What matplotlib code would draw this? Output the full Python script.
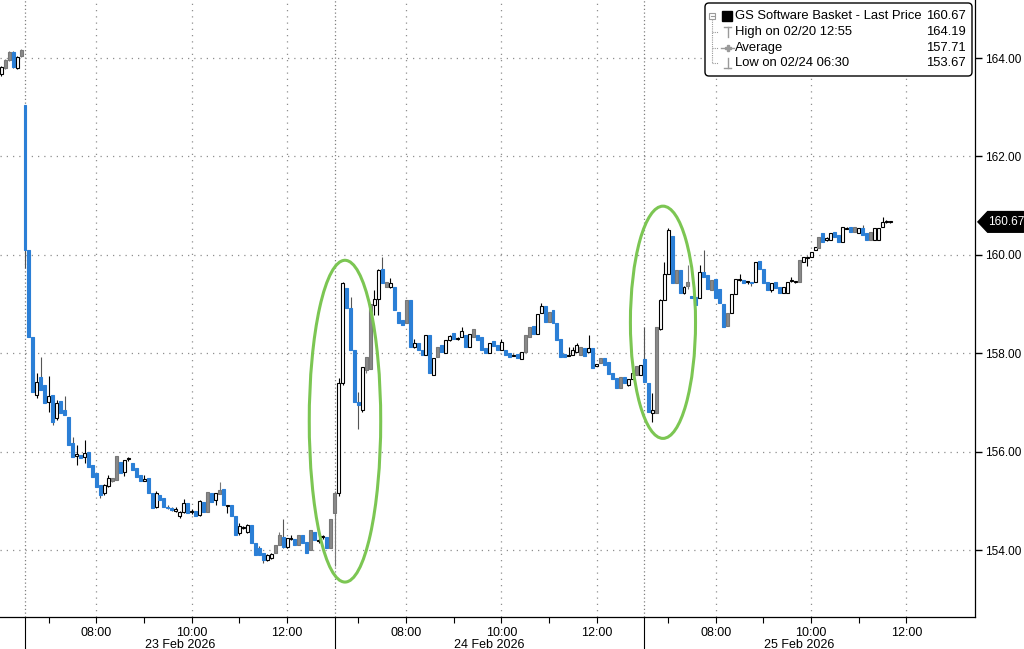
import matplotlib
matplotlib.use('Agg')
import matplotlib.pyplot as plt
import matplotlib.transforms as mtransforms
from matplotlib.patches import Ellipse, Polygon, FancyBboxPatch, Rectangle
import numpy as np

# 5-minute bars: last 6 bars of 20 Feb, then sessions of 23, 24 and 25 Feb (06:30 - 12:55)
bar_open = [
    163.67, 163.79, 163.96, 164.13, 163.79, 164.04,
    # 23 Feb
    163.04, 160.10, 158.34, 157.15, 157.51, 157.35, 157.00, 157.15, 156.68, 157.02,
    156.85, 156.71, 156.17, 155.92, 155.93, 155.89, 156.00, 155.73, 155.56, 155.32,
    155.16, 155.30, 155.40, 155.42, 155.80, 155.59, 155.85, 155.77, 155.67, 155.52,
    155.41, 155.46, 155.16, 154.88, 155.12, 155.06, 154.88, 154.86, 154.80, 154.70,
    154.78, 154.95, 154.77, 154.80, 154.71, 154.98, 154.78, 155.16, 155.02, 155.14,
    155.24, 154.90, 154.91, 154.69, 154.35, 154.44, 154.37, 154.51, 154.14, 154.04,
    153.94, 153.80, 153.84, 153.94, 154.10, 154.27, 154.07, 154.23, 154.22, 154.10,
    154.30, 154.17, 154.00, 154.37, 154.19, 154.26, 154.27, 154.04,
    # 24 Feb
    154.75, 155.16, 157.39, 159.32, 158.91, 158.06, 157.01, 156.84, 157.66, 157.69,
    158.98, 159.11, 159.72, 159.35, 159.35, 159.35, 158.84, 158.67, 158.61, 159.08,
    158.13, 158.20, 158.06, 157.96, 158.37, 157.56, 157.93, 158.17, 158.00, 158.27,
    158.42, 158.28, 158.34, 158.37, 158.13, 158.34, 158.37, 158.34, 158.10, 158.01,
    158.25, 158.17, 158.06, 158.06, 158.00, 157.95, 157.98, 157.89, 158.03, 158.34,
    158.55, 158.40, 158.82, 158.96, 158.64, 158.88, 158.62, 158.28, 157.98, 157.95,
    157.96, 158.03, 157.96, 158.10, 158.03, 158.10, 157.75, 157.81, 157.90, 157.83,
    157.59, 157.49, 157.29, 157.51, 157.35, 157.47, 157.56, 157.56,
    # 25 Feb
    157.88, 157.40, 156.78, 156.78, 158.50, 159.08, 159.62, 160.38, 159.42, 159.70,
    159.22, 159.36, 159.16, 159.15, 159.12, 159.66, 159.59, 159.29, 159.50, 159.30,
    159.01, 158.56, 158.82, 159.20, 159.48, 159.49, 159.44, 159.43, 159.45, 159.87,
    159.72, 159.45, 159.28, 159.45, 159.35, 159.22, 159.22, 159.46, 159.44, 159.45,
    159.86, 159.94, 159.95, 160.10, 160.13, 160.44, 160.31, 160.30, 160.47, 160.40,
    160.27, 160.53, 160.57, 160.47, 160.44, 160.54, 160.44, 160.31, 160.30, 160.31,
    160.57, 160.66, 160.66,
]
bar_high = [
    163.84, 163.98, 164.14, 164.14, 164.05, 164.19,
    163.04, 160.10, 158.34, 157.60, 157.93, 157.35, 157.53, 157.15, 157.05, 157.02,
    157.13, 156.71, 156.30, 156.13, 155.93, 156.24, 156.00, 155.73, 155.56, 155.32,
    155.34, 155.52, 155.46, 155.91, 155.80, 155.83, 155.90, 155.77, 155.67, 155.52,
    155.52, 155.46, 155.16, 155.20, 155.12, 155.06, 154.92, 154.88, 154.88, 154.80,
    155.03, 154.95, 154.84, 154.80, 155.02, 154.98, 155.18, 155.16, 155.16, 155.39,
    155.24, 154.92, 154.91, 154.69, 154.55, 154.48, 154.53, 154.51, 154.14, 154.08,
    153.94, 153.92, 153.95, 154.10, 154.37, 154.63, 154.24, 154.30, 154.22, 154.30,
    154.30, 154.17, 154.41, 154.37, 154.25, 154.30, 154.27, 154.63,
    155.20, 157.50, 159.45, 159.32, 159.15, 158.06, 157.22, 157.73, 157.93, 159.01,
    159.28, 159.72, 159.96, 159.45, 159.52, 159.35, 158.84, 158.67, 159.08, 159.08,
    158.30, 158.20, 158.06, 158.37, 158.37, 157.91, 158.13, 158.17, 158.27, 158.37,
    158.42, 158.33, 158.54, 158.37, 158.40, 158.50, 158.37, 158.34, 158.10, 158.21,
    158.25, 158.17, 158.30, 158.06, 158.00, 157.98, 157.98, 158.03, 158.37, 158.54,
    158.55, 158.79, 159.03, 158.96, 158.84, 158.88, 158.62, 158.28, 157.98, 158.13,
    158.13, 158.20, 158.13, 158.10, 158.37, 158.10, 157.78, 157.90, 157.90, 157.83,
    157.59, 157.49, 157.52, 157.51, 157.47, 157.59, 157.74, 157.76,
    158.54, 157.40, 157.20, 158.54, 159.11, 159.86, 160.54, 160.38, 159.69, 159.70,
    159.36, 159.79, 159.16, 159.15, 159.79, 160.10, 159.59, 159.49, 159.50, 159.30,
    159.01, 158.82, 159.20, 159.50, 159.62, 159.49, 159.47, 159.45, 159.86, 159.87,
    159.72, 159.45, 159.42, 159.45, 159.35, 159.35, 159.45, 159.55, 159.47, 159.89,
    159.96, 159.97, 160.06, 160.16, 160.37, 160.44, 160.36, 160.45, 160.47, 160.40,
    160.56, 160.56, 160.57, 160.57, 160.54, 160.60, 160.44, 160.47, 160.54, 160.54,
    160.77, 160.70, 160.68,
]
bar_low = [
    163.64, 163.77, 163.94, 163.80, 163.77, 164.02,
    159.73, 158.34, 157.22, 157.09, 157.25, 156.99, 156.81, 156.54, 156.65, 156.78,
    156.74, 156.13, 155.90, 155.73, 155.87, 155.77, 155.69, 155.49, 155.29, 155.06,
    155.12, 155.28, 155.39, 155.42, 155.56, 155.50, 155.82, 155.63, 155.49, 155.41,
    155.40, 155.16, 154.85, 154.85, 155.02, 154.88, 154.84, 154.80, 154.78, 154.66,
    154.75, 154.75, 154.73, 154.69, 154.70, 154.78, 154.78, 154.98, 154.91, 155.14,
    154.91, 154.75, 154.69, 154.30, 154.30, 154.42, 154.35, 154.14, 153.90, 153.90,
    153.74, 153.78, 153.82, 153.94, 154.10, 154.05, 154.05, 154.20, 154.10, 154.10,
    154.14, 153.95, 154.00, 154.20, 154.15, 154.22, 154.04, 154.04,
    153.67, 155.10, 157.35, 158.91, 158.06, 157.01, 156.47, 156.81, 157.60, 157.69,
    158.78, 158.78, 159.42, 159.35, 159.32, 158.88, 158.61, 158.57, 158.61, 158.13,
    158.10, 158.06, 157.96, 157.96, 157.59, 157.56, 157.93, 158.03, 158.00, 158.25,
    158.28, 158.27, 158.34, 158.13, 158.13, 158.34, 158.27, 158.06, 158.00, 158.01,
    158.15, 158.06, 158.06, 157.96, 157.93, 157.94, 157.91, 157.89, 158.03, 158.34,
    158.40, 158.40, 158.82, 158.64, 158.64, 158.61, 158.27, 157.93, 157.92, 157.94,
    157.96, 158.03, 157.96, 157.94, 158.03, 157.71, 157.74, 157.81, 157.76, 157.58,
    157.47, 157.29, 157.29, 157.40, 157.33, 157.47, 157.56, 157.56,
    157.42, 156.81, 156.60, 156.78, 158.47, 159.08, 159.62, 159.42, 159.42, 159.23,
    159.20, 159.30, 159.12, 158.98, 159.12, 159.56, 159.30, 159.29, 159.12, 159.03,
    158.54, 158.56, 158.82, 159.20, 159.47, 159.42, 159.40, 159.36, 159.45, 159.72,
    159.42, 159.28, 159.25, 159.32, 159.22, 159.22, 159.22, 159.45, 159.43, 159.45,
    159.86, 159.78, 159.95, 160.10, 160.13, 160.27, 160.28, 160.30, 160.37, 160.27,
    160.27, 160.52, 160.47, 160.47, 160.44, 160.40, 160.30, 160.31, 160.30, 160.31,
    160.57, 160.64, 160.65,
]
bar_close = [
    163.82, 163.96, 164.13, 163.82, 164.03, 164.17,
    160.10, 158.34, 157.22, 157.42, 157.25, 156.99, 157.13, 156.61, 156.99, 156.78,
    156.74, 156.13, 155.90, 155.94, 155.87, 155.97, 155.69, 155.49, 155.29, 155.12,
    155.32, 155.46, 155.46, 155.91, 155.56, 155.83, 155.87, 155.63, 155.49, 155.41,
    155.43, 155.16, 154.85, 155.16, 155.02, 154.88, 154.86, 154.82, 154.82, 154.78,
    154.95, 154.75, 154.79, 154.69, 155.00, 154.78, 155.18, 154.98, 155.16, 155.22,
    154.91, 154.92, 154.69, 154.30, 154.49, 154.46, 154.51, 154.14, 153.90, 153.90,
    153.80, 153.90, 153.92, 154.10, 154.30, 154.07, 154.24, 154.25, 154.10, 154.30,
    154.14, 153.95, 154.41, 154.20, 154.21, 154.28, 154.04, 154.63,
    155.16, 157.39, 159.42, 158.91, 158.06, 157.01, 156.95, 157.73, 157.93, 159.01,
    159.11, 159.70, 159.42, 159.45, 159.43, 158.88, 158.61, 158.57, 159.08, 158.13,
    158.20, 158.06, 157.96, 158.37, 157.59, 157.91, 158.13, 158.03, 158.27, 158.35,
    158.28, 158.31, 158.46, 158.13, 158.40, 158.50, 158.27, 158.06, 158.00, 158.21,
    158.15, 158.06, 158.23, 157.96, 157.93, 157.97, 157.91, 158.03, 158.37, 158.54,
    158.40, 158.79, 158.96, 158.64, 158.84, 158.61, 158.27, 157.93, 157.92, 157.97,
    158.07, 158.17, 158.13, 157.94, 158.10, 157.71, 157.77, 157.90, 157.76, 157.58,
    157.47, 157.29, 157.52, 157.40, 157.47, 157.59, 157.74, 157.76,
    157.42, 156.81, 156.85, 158.54, 159.08, 159.62, 160.50, 159.42, 159.69, 159.23,
    159.34, 159.45, 159.12, 158.98, 159.66, 159.56, 159.30, 159.49, 159.12, 159.03,
    158.54, 158.82, 159.20, 159.50, 159.50, 159.42, 159.45, 159.42, 159.86, 159.72,
    159.42, 159.28, 159.42, 159.32, 159.22, 159.35, 159.45, 159.48, 159.46, 159.89,
    159.96, 159.96, 160.06, 160.16, 160.37, 160.27, 160.33, 160.45, 160.37, 160.27,
    160.56, 160.55, 160.47, 160.57, 160.54, 160.40, 160.30, 160.47, 160.54, 160.54,
    160.67, 160.68, 160.67,
]
# candle style: w = hollow up, g = grey up, b = blue down
bar_kind = ("wggbwg"
            "bbbwbbwbwb" "bbbwbwbbbb" "wwggbwwbbb" "wbbwbbbbww"
            "wbwbwbgbwg" "bwbbwwwbbb" "bwwggbwwbg" "bbgbwwbg"
            "gwwbbbbwgg" "wwbgwbbbgb" "wbbwbwgbww" "bwwbwgbbbw"
            "bbwbbwbwgg" "bwwbgbbbbw" "wwgbwbwgbb" "bbgbwwgw"
            "bbwgwwwbgb" "wgbbwbbgbb" "bgwwwbwbwb" "bbwbbwwwwg"
            "wwwwgbwwbb" "wwbgwbbgww" "www")

n_prev = 6
bars_per_session = 78
session_labels = ['23 Feb 2026', '24 Feb 2026', '25 Feb 2026']
hour_labels = ['08:00', '10:00', '12:00']
hour_offsets = [18, 42, 66]          # bars after 06:30
y_ticks = [154, 156, 158, 160, 162, 164]

legend_rows = [('GS Software Basket - Last Price', '160.67'),
               ('High on 02/20 12:55', '164.19'),
               ('Average', '157.71'),
               ('Low on 02/24 06:30', '153.67')]
last_price = 160.67

# highlighted moves: (centre bar, centre price, width in bars, height in price)
highlights = [(80.6, 156.62, 18.0, 6.54), (160.7, 158.63, 16.4, 4.72)]

o = np.array(bar_open)
h = np.array(bar_high)
l = np.array(bar_low)
c = np.array(bar_close)
x = np.arange(len(o)) - n_prev

BLUE = '#2b7fd6'
GREY = '#8a8a8a'
face = {'w': 'white', 'g': GREY, 'b': BLUE}
edge = {'w': 'black', 'g': '#777777', 'b': BLUE}
wick = {'w': 'black', 'g': '#777777', 'b': '#555555'}
narrow = ['Liberation Sans Narrow', 'Liberation Sans']

fig = plt.figure(figsize=(10.24, 6.49), dpi=100)
ax = fig.add_axes([0, 1 - 617 / 649, 975 / 1024, 617 / 649])
ax.set_xlim(-6.3, 239.3)
ax.set_ylim(152.64, 165.18)

# grid
for yv in y_ticks:
    ax.axhline(yv, color='#8f8f8f', lw=0.9, ls=(0, (1, 4)), zorder=1)
for s in range(len(session_labels)):
    ax.axvline(s * bars_per_session, color='#808080', lw=0.9, ls=(0, (1, 2)), zorder=1)
    for k in hour_offsets:
        ax.axvline(s * bars_per_session + k, color='#8f8f8f', lw=0.9, ls=(0, (1, 4)), zorder=1)

# candles
kinds = list(bar_kind)
ax.vlines(x, l, h, colors=[wick[k] for k in kinds], lw=0.8, zorder=2)
bottom = np.minimum(o, c)
height = np.maximum(np.abs(c - o), 0.025)
ax.bar(x, height, width=0.75, bottom=bottom, color=[face[k] for k in kinds],
       edgecolor=[edge[k] for k in kinds], linewidth=0.8, zorder=3)

for cx, cy, w, hh in highlights:
    ax.add_patch(Ellipse((cx, cy), w, hh, fill=False, ec='#7cc653', lw=2.2, zorder=5))

# axes styling
for side in ['top', 'left']:
    ax.spines[side].set_visible(False)
ax.spines['right'].set_linewidth(0.9)
ax.spines['bottom'].set_linewidth(0.9)

ax.yaxis.tick_right()
ax.set_yticks(y_ticks)
ax.set_yticklabels(['%.2f' % v for v in y_ticks], fontsize=8.5, family='Liberation Sans')
ax.tick_params(axis='y', length=5, width=1, pad=2)

major = [s * bars_per_session + k for s in range(3) for k in hour_offsets]
minor = [s * bars_per_session + k for s in range(3) for k in range(6, 78, 12)]
ax.set_xticks(major)
ax.set_xticklabels(hour_labels * 3, fontsize=9, family=narrow)
ax.set_xticks(minor, minor=True)
ax.tick_params(axis='x', which='both', length=4, width=0.8, pad=3)

trans = mtransforms.blended_transform_factory(ax.transData, ax.transAxes)
ax.vlines([s * bars_per_session for s in range(3)], -34 / 617, 0, transform=trans,
          colors='black', lw=0.8, clip_on=False)
for s, lab in enumerate(session_labels):
    ax.text(s * bars_per_session + 39, -27.5 / 617, lab, transform=trans, ha='center', va='center',
            fontsize=9, family=narrow)

# last price tag
tr2 = mtransforms.blended_transform_factory(ax.transAxes, ax.transData)
dy = 0.21
ax.add_patch(Polygon([(1.003, last_price), (1.013, last_price + dy), (1.05, last_price + dy),
                      (1.05, last_price - dy), (1.013, last_price - dy)], closed=True,
                     transform=tr2, fc='black', ec='black', clip_on=False, zorder=6))
ax.text(1.0135, last_price, '%.2f' % last_price, transform=tr2, color='white', fontsize=8.5,
        va='center', ha='left', family='Liberation Sans', zorder=7, clip_on=False)

# legend box (pixel coordinates, y downward)
px = mtransforms.Affine2D().scale(1 / 1024, -1 / 649).translate(0, 1) + fig.transFigure
fig.patches.append(FancyBboxPatch((705, 3), 267, 73, boxstyle='round,pad=0,rounding_size=4',
                                  transform=px, fc='white', ec='black', lw=1))
row_y = [16, 32, 48, 63]
for (lab, val), yy in zip(legend_rows, row_y):
    fig.text(735, yy, lab, transform=px, ha='left', va='center', fontsize=9.4, family='Liberation Sans')
    fig.text(966, yy, val, transform=px, ha='right', va='center', fontsize=9.4, family='Liberation Sans')
icon = '#9a9a9a'
fig.patches.append(Rectangle((721.5, 11), 10, 10, transform=px, fc='black', ec='black'))
fig.patches.append(Rectangle((709, 12.5), 6, 6, transform=px, fc='white', ec=icon, lw=0.8))
fig.lines.append(plt.Line2D([710.5, 713.5], [15.5, 15.5], transform=px, color=icon, lw=0.8))
fig.lines.append(plt.Line2D([712, 712], [19, 63], transform=px, color=icon, lw=0.8, ls=(0, (1, 1))))
for yy in row_y[1:]:
    fig.lines.append(plt.Line2D([712, 718], [yy, yy], transform=px, color=icon, lw=0.8, ls=(0, (1, 1))))
fig.lines.append(plt.Line2D([724, 731], [27, 27], transform=px, color=icon, lw=1))
fig.lines.append(plt.Line2D([727.5, 727.5], [27, 37], transform=px, color=icon, lw=1))
fig.lines.append(plt.Line2D([721, 734], [48, 48], transform=px, color=icon, lw=1))
fig.lines.append(plt.Line2D([727.5], [48], transform=px, color=icon, marker='P', ms=4, lw=0))
fig.lines.append(plt.Line2D([727.5, 727.5], [58, 68], transform=px, color=icon, lw=1))
fig.lines.append(plt.Line2D([724, 731], [68, 68], transform=px, color=icon, lw=1))

fig.savefig('out.png', dpi=100)
